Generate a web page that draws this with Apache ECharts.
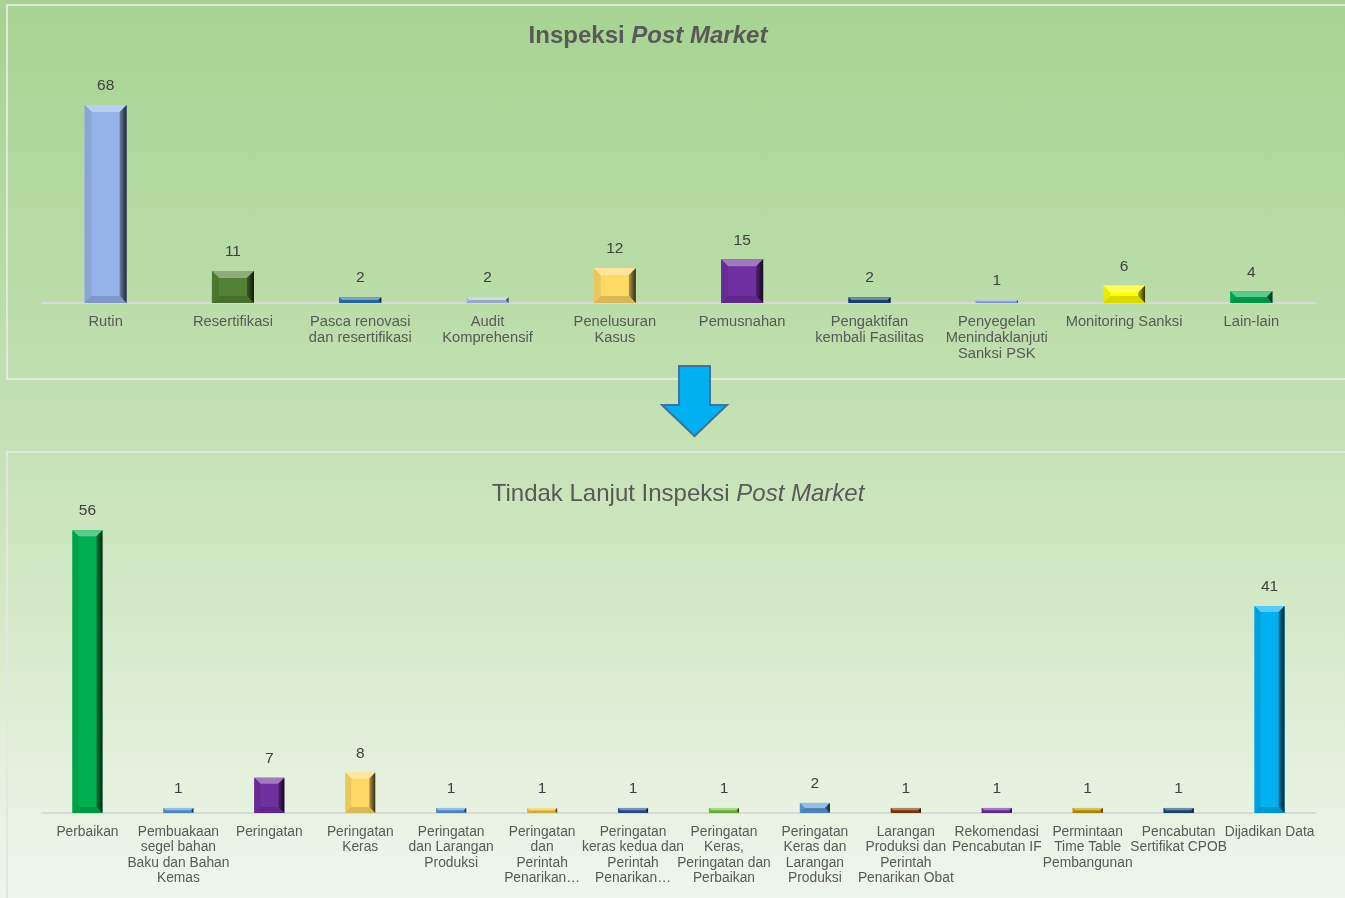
<!DOCTYPE html>
<html>
<head>
<meta charset="utf-8">
<script src="https://cdn.jsdelivr.net/npm/echarts@6/dist/echarts.min.js"></script>
<style>
  html, body { margin: 0; padding: 0; }
  body { background: linear-gradient(to bottom, #a6d392 0%, #c4e1b3 48%, #eff6ec 100%); }
  #chart { width: 1345px; height: 898px; }
</style>
</head>
<body>
<div id="chart"></div>
<script>
// Inspeksi Post Market
const inspeksiCategories = [
  'Rutin', 'Resertifikasi', 'Pasca renovasi\ndan resertifikasi', 'Audit\nKomprehensif',
  'Penelusuran\nKasus', 'Pemusnahan', 'Pengaktifan\nkembali Fasilitas',
  'Penyegelan\nMenindaklanjuti\nSanksi PSK', 'Monitoring Sanksi', 'Lain-lain'
]
const inspeksiValues = [68, 11, 2, 2, 12, 15, 2, 1, 6, 4]
const inspeksiColors = ['#95b3e8', '#538135', '#2e75b6', '#b4c7e7', '#ffd966',
  '#7030a0', '#1f4e79', '#8faadc', '#ffff00', '#00b050']

// Tindak Lanjut Inspeksi Post Market
const tindakCategories = [
  'Perbaikan', 'Pembuakaan\nsegel bahan\nBaku dan Bahan\nKemas', 'Peringatan', 'Peringatan\nKeras',
  'Peringatan\ndan Larangan\nProduksi', 'Peringatan\ndan\nPerintah\nPenarikan…',
  'Peringatan\nkeras kedua dan\nPerintah\nPenarikan…', 'Peringatan\nKeras,\nPeringatan dan\nPerbaikan',
  'Peringatan\nKeras dan\nLarangan\nProduksi', 'Larangan\nProduksi dan\nPerintah\nPenarikan Obat',
  'Rekomendasi\nPencabutan IF', 'Permintaan\nTime Table\nPembangunan', 'Pencabutan\nSertifikat CPOB',
  'Dijadikan Data'
]
const tindakValues = [56, 1, 7, 8, 1, 1, 1, 1, 2, 1, 1, 1, 1, 41]
const tindakColors = ['#00b050', '#5b9bd5', '#7030a0', '#ffd966', '#5b9bd5', '#f2c94c',
  '#2f5597', '#7cc243', '#5b9bd5', '#843c0c', '#7030a0', '#c49a0c', '#1f4e79', '#00b0f0']

const chart = echarts.init(document.getElementById('chart'))
const font = "'Liberation Sans', Arial, sans-serif"

// mix colour with white (t>0) or black (t<0)
const shade = (hex, t) => {
  const n = parseInt(hex.slice(1), 16)
  let r = n >> 16, g = (n >> 8) & 255, b = n & 255
  const target = t > 0 ? 255 : 0
  const k = Math.abs(t)
  r = Math.round(r + (target - r) * k)
  g = Math.round(g + (target - g) * k)
  b = Math.round(b + (target - b) * k)
  return `rgb(${r},${g},${b})`
}

// bevelled bar like the office chart
const bevelBar = (colors, ratio, bevel) => (params, api) => {
  const idx = api.value(0)
  const v = api.value(1)
  const top = api.coord([idx, v])
  const base = api.coord([idx, 0])
  const w = api.size([1, 0])[0] * ratio
  const x0 = top[0] - w / 2, x1 = top[0] + w / 2
  const y0 = top[1], y1 = base[1]
  const b = Math.min(bevel, (y1 - y0) / 2, w / 2)
  const c = colors[params.dataIndex]
  return {
    type: 'group',
    children: [
      { type: 'rect', shape: { x: x0, y: y0, width: w, height: y1 - y0 }, style: { fill: c } },
      { type: 'polygon', shape: { points: [[x0, y0], [x1, y0], [x1 - b, y0 + b], [x0 + b, y0 + b]] },
        style: { fill: shade(c, 0.35) } },
      { type: 'polygon', shape: { points: [[x0, y0], [x0 + b, y0 + b], [x0 + b, y1 - b], [x0, y1]] },
        style: { fill: shade(c, -0.08) } },
      { type: 'polygon', shape: { points: [[x0, y1], [x1, y1], [x1 - b, y1 - b], [x0 + b, y1 - b]] },
        style: { fill: shade(c, -0.15) } },
      { type: 'polygon', shape: { points: [[x1, y0], [x1, y1], [x1 - b, y1 - b], [x1 - b, y0 + b]] },
        style: { fill: new echarts.graphic.LinearGradient(0, 0, 1, 0, [
          { offset: 0, color: shade(c, -0.3) }, { offset: 1, color: shade(c, -0.8) }]) } },
      { type: 'text', style: { text: String(v), x: top[0], y: y0 - 11, align: 'center', verticalAlign: 'bottom',
        fill: '#404040', fontSize: 15.5, fontFamily: font } }
    ]
  }
}

const xAxisStyle = (idx, data, size, lh) => ({
  type: 'category',
  gridIndex: idx,
  data: data,
  axisTick: { show: false },
  axisLine: { lineStyle: { color: '#d9d9d9', width: 2 } },
  axisLabel: { interval: 0, color: '#595959', fontSize: size, lineHeight: lh, fontFamily: font, margin: 11 }
})

const option = {
  animation: false,
  backgroundColor: 'transparent',
  title: [
    {
      text: '{b|Inspeksi }{bi|Post Market}',
      left: 643, top: 19, textAlign: 'center',
      textStyle: { rich: {
        b: { fontSize: 24, fontWeight: 'bold', color: '#595959', fontFamily: font },
        bi: { fontSize: 24, fontWeight: 'bold', fontStyle: 'italic', color: '#595959', fontFamily: font }
      } }
    },
    {
      text: '{n|Tindak Lanjut Inspeksi }{i|Post Market}',
      left: 673, top: 477, textAlign: 'center',
      textStyle: { fontWeight: 'normal', rich: {
        n: { fontSize: 24, fontWeight: 'normal', color: '#595959', fontFamily: font },
        i: { fontSize: 24, fontWeight: 'normal', fontStyle: 'italic', color: '#595959', fontFamily: font }
      } }
    }
  ],
  grid: [
    { left: 42, right: 30, top: 70, height: 233 },
    { left: 42, right: 30, top: 510, height: 303 }
  ],
  xAxis: [
    xAxisStyle(0, inspeksiCategories, 14.7, 16),
    xAxisStyle(1, tindakCategories, 13.8, 15.5)
  ],
  yAxis: [
    { type: 'value', gridIndex: 0, min: 0, max: 80, show: false },
    { type: 'value', gridIndex: 1, min: 0, max: 60, show: false }
  ],
  graphic: [
    { type: 'rect', shape: { x: 7, y: 5, width: 1345, height: 374 },
      style: { fill: 'none', stroke: '#e2e8de', lineWidth: 2 } },
    { type: 'rect', shape: { x: 7, y: 452, width: 1345, height: 450 },
      style: { fill: 'none', stroke: '#e2e8de', lineWidth: 2 } },
    { type: 'polygon', z: 10,
      shape: { points: [[679, 366], [710, 366], [710, 405], [727, 405], [694.5, 436], [662, 405], [679, 405]] },
      style: { fill: '#00b0f0', stroke: '#41719c', lineWidth: 2 } }
  ],
  series: [
    {
      type: 'custom',
      xAxisIndex: 0, yAxisIndex: 0,
      renderItem: bevelBar(inspeksiColors, 0.33, 7),
      encode: { x: 0, y: 1 },
      data: inspeksiValues.map((v, i) => [i, v])
    },
    {
      type: 'custom',
      xAxisIndex: 1, yAxisIndex: 1,
      renderItem: bevelBar(tindakColors, 0.33, 6),
      encode: { x: 0, y: 1 },
      data: tindakValues.map((v, i) => [i, v])
    }
  ]
}

chart.setOption(option)
window.addEventListener('resize', () => chart.resize())
</script>
</body>
</html>
